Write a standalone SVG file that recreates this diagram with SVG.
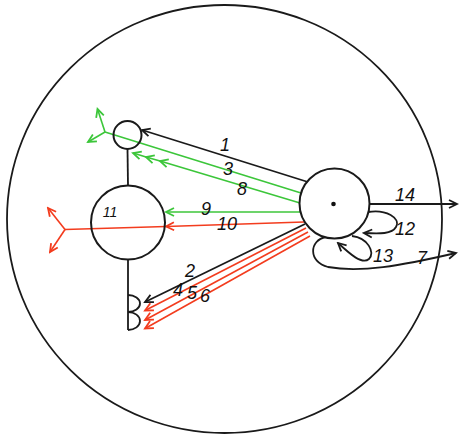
<svg xmlns="http://www.w3.org/2000/svg" width="459" height="437" viewBox="0 0 459 437">
  <style>
    .k{fill:none;stroke:#1a1a1a;stroke-width:1.8}
    .g{fill:none;stroke:#3cc63a;stroke-width:1.6}
    .r{fill:none;stroke:#f33c1e;stroke-width:1.6}
    .lb{font-family:"Liberation Sans",Arial,sans-serif;font-style:italic;font-size:18px;fill:#111;text-anchor:middle;dominant-baseline:central}
  </style>
  <defs>
    <marker id="ak" markerUnits="userSpaceOnUse" viewBox="-10 -6 12 12" refX="0" refY="0" markerWidth="12" markerHeight="12" orient="auto">
      <path d="M-8,-4 L0,0 L-8,4" fill="none" stroke="#1a1a1a" stroke-width="1.8"/>
    </marker>
    <marker id="ag" markerUnits="userSpaceOnUse" viewBox="-10 -6 12 12" refX="0" refY="0" markerWidth="12" markerHeight="12" orient="auto">
      <path d="M-8,-4 L0,0 L-8,4" fill="none" stroke="#3cc63a" stroke-width="1.8"/>
    </marker>
    <marker id="ar" markerUnits="userSpaceOnUse" viewBox="-10 -6 12 12" refX="0" refY="0" markerWidth="12" markerHeight="12" orient="auto">
      <path d="M-8,-4 L0,0 L-8,4" fill="none" stroke="#f33c1e" stroke-width="1.8"/>
    </marker>
  </defs>

  <g id="boundary">
    <ellipse cx="224.5" cy="219" rx="217.5" ry="214" fill="none" stroke="#1a1a1a" stroke-width="1.8"/>
  </g>

  <g id="connectors">
    <line class="k" x1="127.5" y1="149" x2="128" y2="186"/>
    <line class="k" x1="128" y1="259" x2="128" y2="330"/>
    <!-- 1 -->
    <line class="k" x1="308" y1="182" x2="142" y2="130" marker-end="url(#ak)"/>
    <!-- 3 -->
    <line class="g" x1="301" y1="193" x2="105" y2="132"/>
    <line class="g" x1="105" y1="132" x2="97.5" y2="109" marker-end="url(#ag)"/>
    <line class="g" x1="105" y1="132" x2="88" y2="142" marker-end="url(#ag)"/>
    <!-- 8 -->
    <polyline class="g" points="300,203 160,161 146,157 133,153" marker-mid="url(#ag)" marker-end="url(#ag)"/>
    <!-- 9 -->
    <line class="g" x1="300" y1="212" x2="166" y2="212" marker-end="url(#ag)"/>
    <!-- 10 -->
    <polyline class="r" points="304,222 166,226.5 65,229.5" marker-mid="url(#ar)"/>
    <line class="r" x1="65" y1="229.5" x2="48" y2="208" marker-end="url(#ar)"/>
    <line class="r" x1="65" y1="229.5" x2="50" y2="252" marker-end="url(#ar)"/>
    <!-- 2 -->
    <line class="k" x1="305" y1="224" x2="145" y2="302" marker-end="url(#ak)"/>
    <!-- 4 5 6 -->
    <line class="r" x1="306" y1="228" x2="145" y2="310.5" marker-end="url(#ar)"/>
    <line class="r" x1="308" y1="232" x2="145" y2="320" marker-end="url(#ar)"/>
    <line class="r" x1="310" y1="236" x2="145" y2="328.5" marker-end="url(#ar)"/>
    <!-- 14 -->
    <line class="k" x1="369" y1="204" x2="457" y2="204" marker-end="url(#ak)"/>
    <!-- 12 -->
    <path class="k" d="M368,212 C386,209 401,218 396,227 C392,234 380,234 364,233" marker-end="url(#ak)"/>
    <!-- 13 -->
    <path class="k" d="M352,236 C368,238 375,252 369,259 C362,265 350,254 338,243" marker-end="url(#ak)"/>
    <!-- 7 -->
    <path class="k" d="M326,237 C309,240 308,262 328,267 C360,273 400,266 456,253" marker-end="url(#ak)"/>
  </g>

  <g id="node-hub">
    <circle cx="334.5" cy="203.5" r="35" fill="#fff" stroke="#1a1a1a" stroke-width="2"/>
    <circle cx="333.5" cy="204" r="2.3" fill="#111"/>
  </g>

  <g id="node-small">
    <circle cx="127.5" cy="135" r="14" fill="none" stroke="#1a1a1a" stroke-width="2"/>
  </g>

  <g id="node-11">
    <circle cx="128" cy="222.5" r="37" fill="none" stroke="#1a1a1a" stroke-width="2"/>
    <text class="lb" x="110" y="212" style="font-size:14px">11</text>
  </g>

  <g id="node-terminals">
    <path class="k" d="M128,295 A12,8.5 0 0 1 128,312 A12,9 0 0 1 128,330"/>
  </g>

  <g id="labels">
    <text class="lb" x="225" y="145">1</text>
    <text class="lb" x="228" y="169">3</text>
    <text class="lb" x="242" y="189">8</text>
    <text class="lb" x="206" y="209">9</text>
    <text class="lb" x="227" y="224">10</text>
    <text class="lb" x="190" y="271">2</text>
    <text class="lb" x="178" y="290">4</text>
    <text class="lb" x="192" y="293">5</text>
    <text class="lb" x="205" y="296">6</text>
    <text class="lb" x="405" y="195">14</text>
    <text class="lb" x="405" y="229">12</text>
    <text class="lb" x="383" y="256">13</text>
    <text class="lb" x="422" y="258">7</text>
  </g>
</svg>
